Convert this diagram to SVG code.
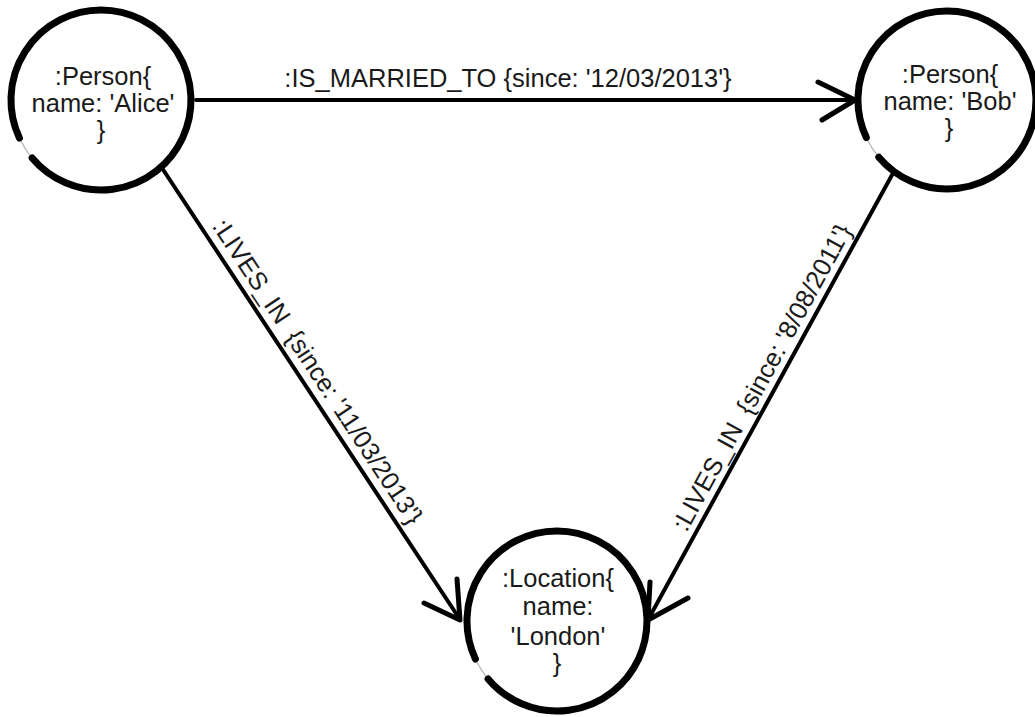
<svg xmlns="http://www.w3.org/2000/svg" width="1035" height="717" viewBox="0 0 1035 717">
<style>
  .halo { fill: #ffffff; stroke: #b0b0b0; stroke-width: 1.2; }
  .ring { fill: none; stroke: #000; stroke-width: 7; stroke-linecap: round; }
  .lbl { font-family: "Liberation Sans", Arial, sans-serif; font-size: 25.5px; fill: #1a1a1a; text-anchor: middle; }
  .edge { fill: none; stroke: #000; stroke-width: 4; stroke-linecap: round; }
  .head { fill: none; stroke: #000; stroke-width: 5; stroke-linecap: round; stroke-linejoin: round; }
</style>
<rect width="1035" height="717" fill="#ffffff"/>
<g id="node-alice">
  <circle class="halo" cx="101" cy="100" r="90"/>
  <path class="ring" d="M19.4,138 A90,90 0 1 1 32.1,157.9"/>
  <text class="lbl" x="103" y="85">:Person{</text>
  <text class="lbl" x="103" y="112">name: 'Alice'</text>
  <text class="lbl" x="101" y="139">}</text>
</g>
<g id="node-bob">
  <circle class="halo" cx="947" cy="100" r="89"/>
  <path class="ring" d="M866.3,137.6 A89,89 0 1 1 878.8,157.2"/>
  <text class="lbl" x="950" y="83">:Person{</text>
  <text class="lbl" x="950" y="110">name: 'Bob'</text>
  <text class="lbl" x="949" y="137">}</text>
</g>
<g id="node-london">
  <circle class="halo" cx="557" cy="621" r="90"/>
  <path class="ring" d="M475.4,659 A90,90 0 1 1 488.1,678.9"/>
  <text class="lbl" x="558" y="587">:Location{</text>
  <text class="lbl" x="558" y="615">name:</text>
  <text class="lbl" x="558" y="645">'London'</text>
  <text class="lbl" x="557" y="672">}</text>
</g>
<g id="connectors">
  <g id="edge-married">
    <line class="edge" x1="196" y1="100" x2="853" y2="100"/>
    <polyline class="head" points="818,82 855,100 822,120"/>
    <text class="lbl" x="508" y="87">:IS_MARRIED_TO {since: '12/03/2013'}</text>
  </g>
  <g id="edge-alice-lives">
    <line class="edge" x1="162" y1="168" x2="459" y2="618"/>
    <polyline class="head" points="457,579 460,620 424,603"/>
    <text class="lbl" x="310.5" y="376.4" transform="rotate(56.6 310.5 376.4)" xml:space="preserve">:LIVES_IN  {since: '11/03/2013'}</text>
  </g>
  <g id="edge-bob-lives">
    <line class="edge" x1="892" y1="175" x2="649" y2="618"/>
    <polyline class="head" points="650,582 648,620 688,598"/>
    <text class="lbl" x="769.4" y="381.6" transform="rotate(-61.3 769.4 381.6)" xml:space="preserve">:LIVES_IN  {since: '8/08/2011'}</text>
  </g>
</g>
</svg>
